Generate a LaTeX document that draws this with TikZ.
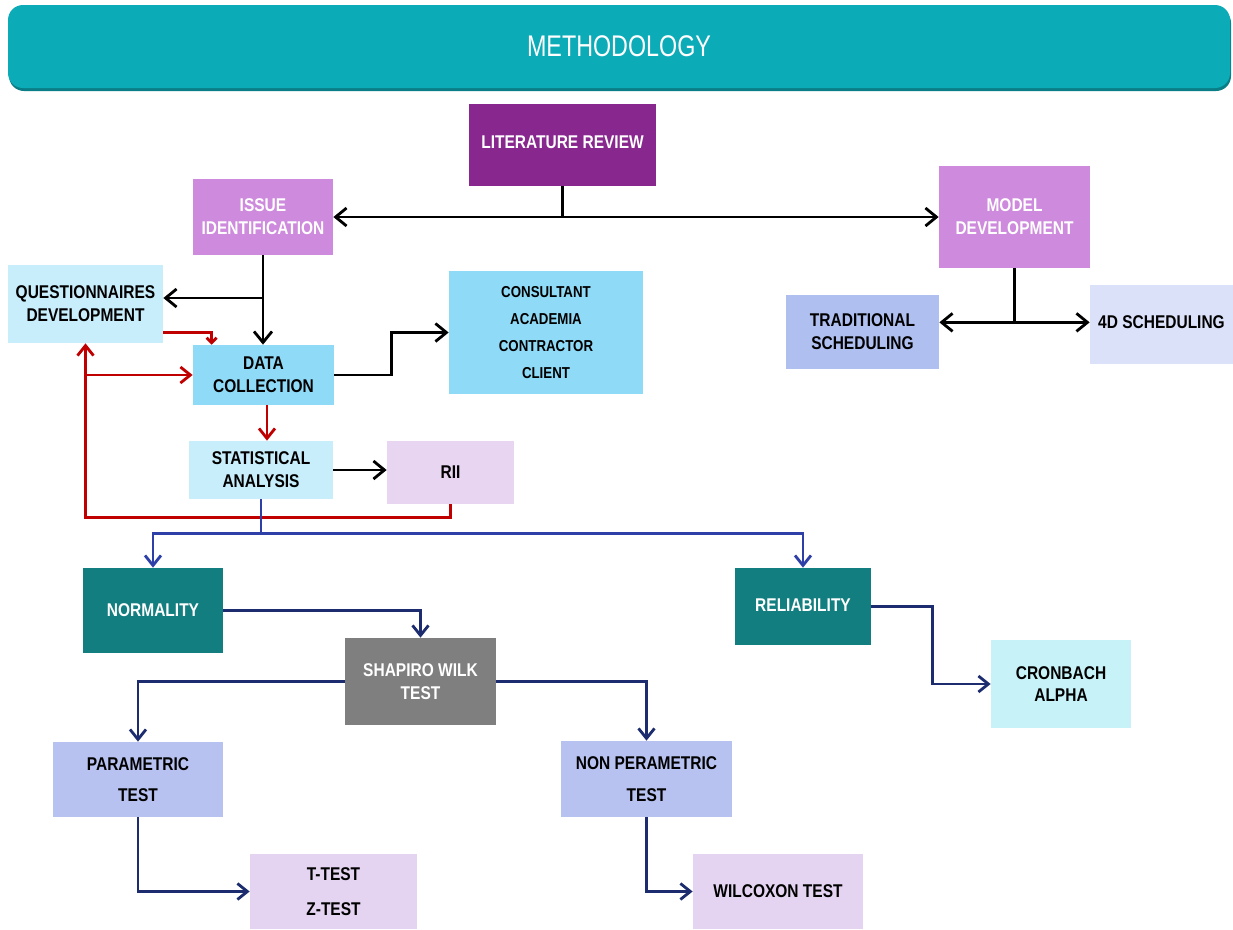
\documentclass[tikz,border=0pt]{standalone}
\usepackage{fontspec}
\setmainfont{Liberation Sans}[FakeStretch=0.84]
\newfontfamily\headfont{Liberation Sans}[FakeStretch=0.78]
\usepackage{tikz}
\usetikzlibrary{positioning,calc,arrows.meta}
\definecolor{headc}{HTML}{0BABB8}
\definecolor{headsh}{HTML}{0A7E86}
\definecolor{litc}{HTML}{88288F}
\definecolor{orchc}{HTML}{CE8ADC}
\definecolor{qdevc}{HTML}{C8EDFB}
\definecolor{skyc}{HTML}{8FDBF7}
\definecolor{tradc}{HTML}{AFBFF0}
\definecolor{fourc}{HTML}{DCE1FA}
\definecolor{riic}{HTML}{E8D5F2}
\definecolor{tealc}{HTML}{137E80}
\definecolor{grayc}{HTML}{7F7F7F}
\definecolor{cronc}{HTML}{C7F3F8}
\definecolor{paramc}{HTML}{B8C2F0}
\definecolor{testc}{HTML}{E5D4F1}
\definecolor{redc}{HTML}{C00000}
\definecolor{bluec}{HTML}{2E3FA8}
\definecolor{navyc}{HTML}{1C2C6E}
\tikzset{
  box/.style={inner sep=2pt, align=center, font=\fontsize{10.5}{13}\selectfont\bfseries},
  blk/.style={line width=1.6pt, black, -{Straight Barb[length=2.2mm,width=3.6mm]}},
  rd/.style={line width=1.6pt, redc, -{Straight Barb[length=2mm,width=3.2mm]}},
  bl/.style={line width=1.6pt, bluec, -{Straight Barb[length=2mm,width=3.2mm]}},
  nv/.style={line width=1.6pt, navyc, -{Straight Barb[length=2mm,width=3.2mm]}}
}

\begin{document}
\begin{tikzpicture}
  \useasboundingbox[fill=white] (0,0) rectangle (24.66,-18.58);
  \node[fill=headsh, rounded corners=0.3cm, minimum width=24.44cm, minimum height=1.66cm] at (12.40,-0.99){};
  \node[fill=headc, rounded corners=0.3cm, minimum width=24.44cm, minimum height=1.66cm, text=white, font=\headfont\fontsize{17}{19}\selectfont] (head) at (12.38,-0.93){METHODOLOGY};
  \node[box, fill=litc, text=white, minimum width=3.74cm, minimum height=1.64cm] (lit) at (11.25,-2.90){\raisebox{1mm}{LITERATURE REVIEW}};
  \node[box, fill=orchc, text=white, minimum width=2.80cm, minimum height=1.52cm] (issue) at (5.26,-4.34){ISSUE\\IDENTIFICATION};
  \node[box, fill=orchc, text=white, minimum width=3.02cm, minimum height=2.04cm] (model) at (20.29,-4.34){MODEL\\DEVELOPMENT};
  \node[box, fill=qdevc, minimum width=3.10cm, minimum height=1.56cm] (quest) at (1.71,-6.08){QUESTIONNAIRES\\DEVELOPMENT};
  \node[box, fill=skyc, minimum width=2.82cm, minimum height=1.20cm] (datac) at (5.27,-7.50){DATA\\COLLECTION};
  \node[box, fill=skyc, minimum width=3.88cm, minimum height=2.46cm, font=\fontsize{9}{15.3}\selectfont\bfseries] (stake) at (10.92,-6.65){CONSULTANT\\ACADEMIA\\CONTRACTOR\\CLIENT};
  \node[box, fill=tradc, minimum width=3.06cm, minimum height=1.48cm] (trad) at (17.25,-6.64){TRADITIONAL\\SCHEDULING};
  \node[box, fill=fourc, minimum width=2.86cm, minimum height=1.58cm] (fourd) at (23.23,-6.49){\raisebox{1mm}{4D SCHEDULING}};
  \node[box, fill=qdevc, minimum width=2.88cm, minimum height=1.16cm] (stat) at (5.22,-9.40){STATISTICAL\\ANALYSIS};
  \node[box, fill=riic, minimum width=2.54cm, minimum height=1.26cm] (rii) at (9.01,-9.45){RII};
  \node[box, fill=tealc, text=white, minimum width=2.80cm, minimum height=1.70cm] (norm) at (3.06,-12.21){NORMALITY};
  \node[box, fill=tealc, text=white, minimum width=2.72cm, minimum height=1.54cm] (rel) at (16.06,-12.13){\raisebox{0.6mm}{RELIABILITY}};
  \node[box, fill=grayc, text=white, minimum width=3.02cm, minimum height=1.74cm] (shap) at (8.41,-13.63){SHAPIRO WILK\\TEST};
  \node[box, fill=cronc, minimum width=2.80cm, minimum height=1.76cm] (cron) at (21.22,-13.68){CRONBACH\\ALPHA};
  \node[box, fill=paramc, minimum width=3.40cm, minimum height=1.50cm] (param) at (2.76,-15.59){PARAMETRIC\\[0.17cm]TEST};
  \node[box, fill=paramc, minimum width=3.42cm, minimum height=1.52cm] (nonp) at (12.93,-15.58){NON PERAMETRIC\\[0.17cm]TEST};
  \node[box, fill=testc, minimum width=3.34cm, minimum height=1.50cm] (ttest) at (6.67,-17.83){T-TEST\\[0.24cm]Z-TEST};
  \node[box, fill=testc, minimum width=3.40cm, minimum height=1.50cm] (wilc) at (15.56,-17.83){WILCOXON TEST};
  \draw[blk] (lit.south) |- (issue.east);
  \draw[blk] (lit.south) |- (model.west);
  \draw[blk] (issue.south) -- (issue.south |- datac.north);
  \coordinate (qarr) at ([yshift=1.2mm]quest.east);
  \draw[blk] (qarr -| issue.south) -- (qarr);
  \draw[blk] (datac.east) -- ++(1.14,0) |- (stake.west);
  \coordinate (msplit) at ([yshift=-1.08cm]model.south);
  \draw[line width=1.6pt] (model.south) -- (msplit);
  \draw[blk] (msplit) -- (msplit -| trad.east);
  \draw[blk] (msplit) -- (msplit -| fourd.west);
  \draw[blk] (stat.east) -- (stat.east -| rii.west);
  \draw[rd, -{Straight Barb[length=1mm,width=2mm]}] ([yshift=2.2mm]quest.south east) -| ([xshift=3.8mm]datac.north west);
  \draw[rd] ([xshift=0.07cm]datac.south) -- ([xshift=0.07cm]datac.south |- stat.north);
  \draw[rd] (rii.south) -- ++(0,-0.26) -| (quest.south);
  \draw[rd] (quest.south |- datac.west) -- (datac.west);
  \draw[line width=1.6pt, bluec] (stat.south) -- ++(0,-0.68) coordinate (bsplit);
  \draw[bl] (bsplit) -| (norm.north);
  \draw[bl] (bsplit) -| (rel.north);
  \draw[nv] (norm.east) -| (shap.north);
  \draw[nv] (shap.west) -| (param.north);
  \draw[nv] (shap.east) -| (nonp.north);
  \draw[nv] (rel.east) -- ++(1.22,0) |- (cron.west);
  \draw[nv] (param.south) |- (ttest.west);
  \draw[nv] (nonp.south) |- (wilc.west);
\end{tikzpicture}
\end{document}
